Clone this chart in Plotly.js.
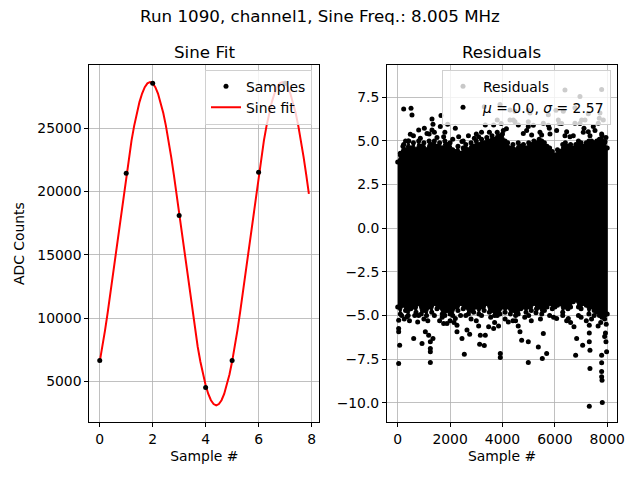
<!DOCTYPE html>
<html>
<head>
<meta charset="utf-8">
<script src="https://cdn.plot.ly/plotly-3.0.1.min.js"></script>
<style>
    html, body { margin: 0; padding: 0; background: white; }
    #chart { width: 640px; height: 480px; }
</style>
</head>
<body>
<div id="chart"></div>
<script>
// ADC samples
const sampleX = [0, 1, 2, 3, 4, 5, 6, 7];
const sampleY = [6640, 21440, 28560, 18110, 4500, 6640, 21520, 28560];

// fitted sine, every 0.1 sample
const fitX = [
    0.0, 0.1, 0.2, 0.3, 0.4, 0.5, 0.6, 0.7, 0.8, 0.9,
    1.0, 1.1, 1.2, 1.3, 1.4, 1.5, 1.6, 1.7, 1.8, 1.9,
    2.0, 2.1, 2.2, 2.3, 2.4, 2.5, 2.6, 2.7, 2.8, 2.9,
    3.0, 3.1, 3.2, 3.3, 3.4, 3.5, 3.6, 3.7, 3.8, 3.9,
    4.0, 4.1, 4.2, 4.3, 4.4, 4.5, 4.6, 4.7, 4.8, 4.9,
    5.0, 5.1, 5.2, 5.3, 5.4, 5.5, 5.6, 5.7, 5.8, 5.9,
    6.0, 6.1, 6.2, 6.3, 6.4, 6.5, 6.6, 6.7, 6.8, 6.9,
    7.0, 7.1, 7.2, 7.3, 7.4, 7.5, 7.6, 7.7, 7.8, 7.9
];
const fitY = [
    6560, 7730, 9030, 10430, 11930, 13480, 15070, 16680, 18270, 19820,
    21320, 22720, 24020, 25190, 26210, 27070, 27750, 28250, 28550, 28650,
    28550, 28250, 27750, 27070, 26210, 25190, 24020, 22720, 21320, 19820,
    18270, 16680, 15070, 13480, 11930, 10430, 9030, 7730, 6560, 5540,
    4680, 4000, 3500, 3200, 3100, 3200, 3500, 4000, 4680, 5540,
    6560, 7730, 9030, 10430, 11930, 13480, 15070, 16680, 18270, 19820,
    21320, 22720, 24020, 25190, 26210, 27070, 27750, 28250, 28550, 28650,
    28550, 28250, 27750, 27070, 26210, 25190, 24020, 22720, 21320, 19820
];

// residuals: the solid core, its ragged upper / lower edge read every 100 samples
const coreX = [
    0, 100, 200, 300, 400, 500, 600, 700, 800, 900,
    1000, 1100, 1200, 1300, 1400, 1500, 1600, 1700, 1800, 1900,
    2000, 2100, 2200, 2300, 2400, 2500, 2600, 2700, 2800, 2900,
    3000, 3100, 3200, 3300, 3400, 3500, 3600, 3700, 3800, 3900,
    4000, 4100, 4200, 4300, 4400, 4500, 4600, 4700, 4800, 4900,
    5000, 5100, 5200, 5300, 5400, 5500, 5600, 5700, 5800, 5900,
    6000, 6100, 6200, 6300, 6400, 6500, 6600, 6700, 6800, 6900,
    7000, 7100, 7200, 7300, 7400, 7500, 7600, 7700, 7800, 7900, 7999
];
const coreTop = [
    3.8, 4.2, 4.7, 4.5, 5.0, 4.6, 4.9, 4.5, 5.0, 4.7,
    4.9, 4.5, 5.0, 4.8, 5.0, 4.7, 4.9, 4.6, 5.0, 4.8,
    4.9, 4.5, 4.4, 4.7, 4.3, 4.6, 4.8, 4.5, 4.9, 4.7,
    5.0, 4.8, 5.1, 4.9, 5.2, 5.0, 5.3, 5.1, 5.5, 5.3,
    5.4, 5.0, 4.9, 4.6, 4.8, 4.5, 4.9, 4.7, 4.8, 4.6,
    4.9, 4.8, 5.0, 4.9, 5.1, 5.0, 4.9, 4.7, 4.6, 4.4,
    4.2, 4.5, 4.4, 4.8, 4.9, 4.7, 4.8, 4.6, 4.8, 5.0,
    4.9, 4.7, 4.9, 5.0, 5.0, 4.9, 5.0, 5.1, 5.3, 4.9, 4.6
];
const coreBottom = [
    -4.5, -4.9, -4.4, -4.7, -5.0, -4.6, -4.5, -4.8, -4.3, -4.9,
    -4.7, -5.0, -4.5, -4.8, -4.3, -4.6, -4.5, -4.9, -5.0, -4.7,
    -4.9, -5.0, -4.5, -4.7, -4.3, -4.6, -4.5, -4.9, -4.7, -4.8,
    -4.5, -4.9, -4.5, -4.7, -4.3, -4.8, -4.7, -5.0, -5.0, -4.9,
    -4.5, -4.8, -4.5, -4.9, -4.7, -5.0, -4.9, -4.6, -4.5, -4.8,
    -4.5, -4.7, -4.3, -4.6, -4.5, -4.9, -4.7, -4.5, -4.3, -4.6,
    -4.5, -4.4, -4.3, -4.8, -4.5, -4.6, -4.5, -4.2, -4.1, -4.5,
    -4.6, -4.3, -4.4, -4.9, -4.5, -4.7, -4.8, -5.0, -5.1, -5.2, -4.9
];

// residuals: loose points outside the core
const looseX = [
    // above the core
    228, 508, 546, 1309, 1653, 1347, 1627, 1907, 800, 1017, 1118, 1309, 2200, 482, 228,
    1500, 1754, 2327, 2454, 419, 864, 2925, 3090, 3344, 3662, 3306, 4414, 4605, 4795, 4986,
    5113, 5559, 5495, 5788, 6169, 6449, 6576, 6767, 7022, 7111, 7276, 7467, 7657, 7848, 7912,
    4287, 4477, 4986, 5177, 5750, 6131, 6258, 6958, 7149, 7696,
    4032, 4922, 5431, 5813, 6067, 6385, 6703, 7085, 7340, 7530, 7785, 7950,
    100, 300, 600, 1200, 1400, 1800, 2100, 2500, 2700, 3000, 3200, 3500, 3800, 3950, 4150,
    // hidden behind the legend
    6385, 6958, 7785, 3905, 4477, 4986, 6042, 6767, 4287, 5050, 5750, 6322, 7276, 7721,
    // below the core
    37, 37, 37, 75, 37, 355, 762, 610, 928, 1055, 1182, 1347, 1246, 1246, 1246, 1246,
    1754, 1882, 2200, 2263, 2263, 2454, 2645, 2747, 2543, 3090, 3154, 3344, 3128, 3306,
    3471, 3662, 3917, 3917, 4223, 4668, 4732, 4986, 4986, 5279, 5368, 5559, 5686, 5520,
    6067, 6513, 6729, 6831, 7060, 6793, 7314, 7314, 7314, 7339, 7339, 7314, 7785, 7785,
    7785, 7785, 7800, 7810, 7975, 7950, 7930, 7960, 7900,
    150, 450, 800, 1000, 1400, 1600, 2000, 2400, 2800, 3200, 3700, 3850, 4400, 4600,
    4850, 5100, 5800, 6300, 6600, 7000, 7200, 7500, 7650, 7900,
    250, 650, 1150, 1700, 2150, 2600, 3000, 3550, 4100, 4500, 5000, 5450, 5950, 6450,
    6900, 7400, 7750
];
const looseY = [
    // above the core
    6.83, 6.87, 6.49, 6.26, 6.45, 5.95, 5.82, 5.95, 5.63, 5.72, 5.43, 5.63, 5.72, 5.38, 4.8,
    5.19, 5.24, 5.24, 4.96, 5.0, 5.15, 5.15, 5.24, 5.91, 5.91, 6.96, 6.2, 5.91, 5.43, 5.82,
    5.34, 6.01, 5.34, 5.72, 6.01, 5.53, 5.24, 6.01, 6.2, 5.72, 5.53, 5.82, 6.01, 6.2, 4.96,
    6.2, 6.1, 6.1, 5.9, 5.9, 6.2, 6.0, 6.0, 6.2, 6.3,
    5.6, 5.6, 5.5, 5.4, 5.6, 5.3, 5.3, 5.5, 5.3, 5.6, 5.4, 5.2,
    4.3, 5.0, 5.3, 5.4, 5.5, 5.5, 5.1, 5.0, 5.3, 5.4, 5.5, 5.5, 6.2, 6.0, 5.7,
    // hidden behind the legend
    7.92, 7.54, 7.95, 7.09, 6.7, 6.76, 6.76, 6.9, 6.77, 6.6, 6.5, 6.7, 6.55, 6.6,
    // below the core
    -5.26, -5.74, -5.93, -6.69, -7.74, -5.07, -5.36, -6.31, -6.6, -5.93, -6.12, -6.31, -6.5, -6.88, -7.07, -7.69,
    -5.45, -5.45, -5.17, -5.55, -5.93, -6.31, -5.83, -6.06, -7.21, -5.6, -6.12, -6.12, -6.64, -6.71,
    -5.64, -5.74, -7.17, -7.4, -5.36, -5.93, -6.41, -6.5, -7.69, -4.84, -6.79, -6.02, -7.17, -7.46,
    -5.17, -5.17, -5.64, -6.31, -6.69, -7.27, -5.55, -6.0, -6.5, -6.98, -8.03, -10.19, -7.27, -7.7,
    -8.2, -8.5, -8.7, -9.98, -7.07, -6.5, -6.0, -5.5, -5.0,
    -5.0, -5.3, -5.0, -5.2, -5.0, -5.3, -5.3, -5.0, -5.2, -5.0, -5.4, -5.6, -5.3, -5.6,
    -5.1, -5.3, -5.0, -5.0, -5.4, -5.1, -5.3, -5.0, -5.6, -6.2,
    -5.2, -5.0, -5.3, -5.1, -5.4, -5.0, -5.3, -5.1, -5.2, -5.3, -5.0, -5.2, -5.1, -5.3,
    -5.0, -5.2, -5.4
];

const residualLabel = '<i>μ</i> = 0.0, <i>σ</i> = 2.57';

const FONT = 'DejaVu Sans, Verdana, sans-serif';
const GRID = '#b0b0b0';
const SMALL = 13.9;   // 10 pt at 100 dpi
const LARGE = 16.7;   // 12 pt at 100 dpi

// core outline: along the top, then back along the bottom
const coreOutlineX = coreX.concat(coreX.slice().reverse());
const coreOutlineY = coreTop.concat(coreBottom.slice().reverse());

const traces = [
    {
        x: fitX, y: fitY, name: 'Sine fit', type: 'scatter', mode: 'lines',
        line: { color: 'red', width: 2 },
        xaxis: 'x', yaxis: 'y', legend: 'legend', legendrank: 2
    },
    {
        x: sampleX, y: sampleY, name: 'Samples', type: 'scatter', mode: 'markers',
        marker: { color: 'black', size: 5 },
        xaxis: 'x', yaxis: 'y', legend: 'legend', legendrank: 1
    },
    {
        x: coreOutlineX, y: coreOutlineY, type: 'scatter', mode: 'lines+markers',
        fill: 'toself', fillcolor: 'black',
        line: { color: 'black', width: 1 },
        marker: { color: 'black', size: 5 },
        xaxis: 'x2', yaxis: 'y2', showlegend: false
    },
    {
        x: looseX, y: looseY, type: 'scatter', mode: 'markers',
        marker: { color: 'black', size: 5 },
        xaxis: 'x2', yaxis: 'y2', showlegend: false
    },
    // legend handles of the right panel
    {
        x: [null], y: [null], name: 'Residuals', type: 'scatter', mode: 'markers',
        marker: { color: '#c8c8c8', size: 5 },
        xaxis: 'x2', yaxis: 'y2', legend: 'legend2', legendrank: 1
    },
    {
        x: [null], y: [null], name: residualLabel, type: 'scatter', mode: 'markers',
        marker: { color: 'black', size: 5 },
        xaxis: 'x2', yaxis: 'y2', legend: 'legend2', legendrank: 2
    }
];

const axisStyle = {
    showgrid: true, gridcolor: GRID, gridwidth: 0.8,
    showline: true, linecolor: 'black', linewidth: 1, mirror: true,
    ticks: 'outside', ticklen: 4, tickwidth: 1, tickcolor: 'black',
    zeroline: false,
    tickfont: { family: FONT, size: SMALL, color: 'black' }
};

const legendStyle = {
    bgcolor: 'rgba(255,255,255,0.8)',
    bordercolor: '#d0d0d0', borderwidth: 1,
    font: { family: FONT, size: SMALL, color: 'black' },
    xref: 'paper', yref: 'paper', xanchor: 'right', yanchor: 'top',
    traceorder: 'normal', itemwidth: 30
};

const layout = {
    width: 640, height: 480,
    paper_bgcolor: 'white', plot_bgcolor: 'white',
    margin: { l: 0, r: 0, t: 0, b: 0 },
    font: { family: FONT, color: 'black' },
    title: {
        text: 'Run 1090, channel1, Sine Freq.: 8.005 MHz',
        x: 0.5, xanchor: 'center', y: 1 - 16 / 480, yanchor: 'middle',
        font: { family: FONT, size: LARGE, color: 'black' }
    },
    xaxis: Object.assign({}, axisStyle, {
        domain: [0.1395, 0.499], anchor: 'y',
        range: [-0.395, 8.295], tick0: 0, dtick: 2,
        title: { text: 'Sample #', standoff: 5, font: { family: FONT, size: SMALL, color: 'black' } }
    }),
    yaxis: Object.assign({}, axisStyle, {
        domain: [0.1208, 0.864], anchor: 'x',
        range: [1780, 29980], tick0: 0, dtick: 5000, tickformat: 'd',
        title: { text: 'ADC Counts', standoff: 9, font: { family: FONT, size: SMALL, color: 'black' } }
    }),
    xaxis2: Object.assign({}, axisStyle, {
        domain: [0.6047, 0.964], anchor: 'y2',
        range: [-408, 8370], tick0: 0, dtick: 2000, tickformat: 'd',
        title: { text: 'Sample #', standoff: 5, font: { family: FONT, size: SMALL, color: 'black' } }
    }),
    yaxis2: Object.assign({}, axisStyle, {
        domain: [0.1208, 0.864], anchor: 'x2',
        range: [-11.09, 9.33], tick0: 0, dtick: 2.5, tickformat: '.1f'
    }),
    legend: Object.assign({}, legendStyle, { x: 0.4875, y: 0.855 }),
    legend2: Object.assign({}, legendStyle, { x: 0.9547, y: 0.855 }),
    annotations: [
        {
            text: 'Sine Fit', xref: 'paper', yref: 'paper',
            x: 0.319, y: 0.8917, xanchor: 'center', yanchor: 'middle', showarrow: false,
            font: { family: FONT, size: LARGE, color: 'black' }
        },
        {
            text: 'Residuals', xref: 'paper', yref: 'paper',
            x: 0.784, y: 0.8917, xanchor: 'center', yanchor: 'middle', showarrow: false,
            font: { family: FONT, size: LARGE, color: 'black' }
        }
    ],
    showlegend: true
};

Plotly.newPlot('chart', traces, layout, { displayModeBar: false, staticPlot: true });
</script>
</body>
</html>
